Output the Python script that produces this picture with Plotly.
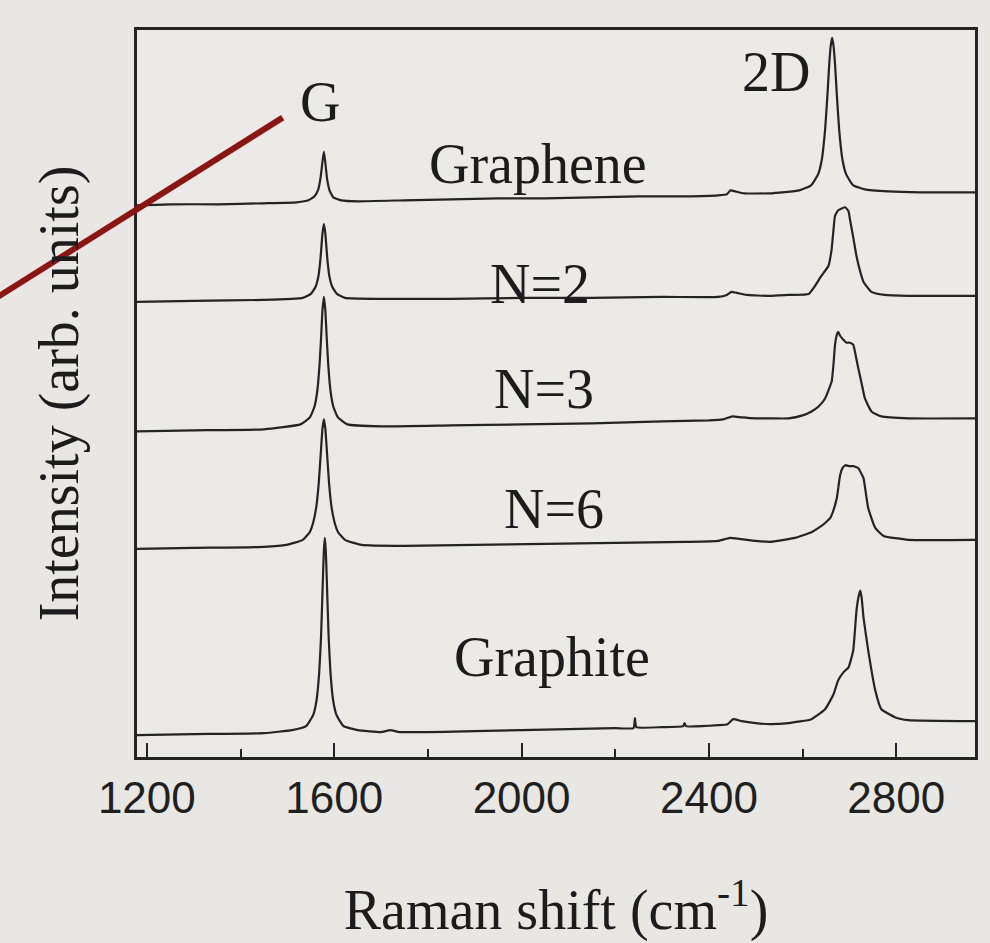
import plotly.graph_objects as go

# Raman spectra (wavenumber in cm^-1, intensity in arbitrary units, stacked)
graphene_x = [1179, 1250, 1350, 1450, 1520, 1545, 1558, 1566, 1571, 1575, 1578, 1581, 1585, 1590, 1598,
              1615, 1650, 1750, 1850, 1950, 2050, 2150, 2250, 2350, 2420, 2438, 2446, 2456, 2475, 2530,
              2593, 2618, 2633, 2641, 2648, 2653, 2657, 2660, 2663, 2666, 2669, 2673, 2678, 2685, 2693,
              2708, 2733, 2783, 2850, 2968]
graphene_y = [554, 555, 555, 556, 557, 559, 563, 570, 582, 598, 608, 597, 580, 569, 562,
              559, 558, 559, 560, 561, 561, 562, 563, 563, 564, 565, 569, 568, 566, 566,
              569, 574, 585, 600, 630, 665, 697, 714, 722, 714, 697, 665, 630, 600, 585,
              574, 570, 568, 567, 567]

n2_x = [1179, 1300, 1450, 1533, 1550, 1560, 1566, 1570, 1572, 1575, 1578, 1581, 1584, 1586, 1590,
        1596, 1606, 1623, 1700, 1850, 2000, 2150, 2300, 2420, 2438, 2448, 2460, 2480, 2530, 2570,
        2613, 2625, 2640, 2655, 2662, 2666, 2669, 2676, 2691, 2698, 2701, 2708, 2715, 2722, 2730,
        2747, 2775, 2826, 2968]
n2_y = [457, 458, 459, 461, 465, 472, 482, 497, 508, 526, 535, 526, 508, 497, 482,
        472, 465, 461, 460, 460, 461, 461, 462, 462, 464, 467, 466, 464, 463, 464,
        465, 472, 483, 493, 510, 530, 543, 549, 552, 548, 540, 522, 503, 489, 477,
        467, 464, 463, 463]

n3_x = [1179, 1300, 1450, 1528, 1548, 1558, 1564, 1569, 1572, 1575, 1578, 1581, 1584, 1587, 1592,
        1598, 1608, 1628, 1700, 1850, 2000, 2150, 2300, 2400, 2430, 2450, 2470, 2500, 2530, 2570,
        2600, 2619, 2634, 2648, 2662, 2666, 2669, 2673, 2676, 2680, 2687, 2694, 2701, 2708, 2713,
        2719, 2726, 2733, 2747, 2768, 2826, 2968]
n3_y = [327, 328, 329, 334, 341, 352, 368, 396, 421, 449, 462, 449, 421, 396, 368,
        352, 341, 334, 332, 333, 334, 335, 337, 338, 339, 342, 341, 340, 340, 340,
        343, 347, 352, 360, 377, 395, 413, 424, 427, 423, 419, 416, 416, 414, 404,
        390, 375, 360, 347, 342, 340, 340]

n6_x = [1179, 1300, 1450, 1498, 1533, 1548, 1556, 1562, 1567, 1572, 1575, 1578, 1581, 1584, 1589,
        1594, 1600, 1608, 1623, 1658, 1750, 1900, 2050, 2200, 2350, 2420, 2445, 2465, 2500, 2530,
        2584, 2620, 2634, 2648, 2659, 2666, 2673, 2680, 2685, 2691, 2700, 2708, 2715, 2719, 2725,
        2730, 2740, 2755, 2773, 2826, 2968]
n6_y = [209, 210, 211, 213, 218, 226, 237, 252, 275, 310, 330, 339, 330, 310, 275,
        252, 237, 226, 218, 213, 212, 213, 214, 215, 216, 217, 220, 219, 217, 216,
        220, 226, 230, 235, 240, 248, 260, 283, 290, 293, 292, 292, 291, 290, 285,
        280, 250, 230, 222, 218, 218]

graphite_x = [1179, 1300, 1450, 1510, 1540, 1555, 1562, 1568, 1572, 1576, 1578, 1580, 1582, 1584, 1588,
              1592, 1598, 1605, 1620, 1650, 1700, 1720, 1740, 1900, 2100, 2200, 2239, 2242, 2245, 2300,
              2345, 2348, 2351, 2420, 2440, 2452, 2470, 2500, 2530, 2570, 2619, 2648, 2666, 2676, 2687,
              2698, 2708, 2715, 2719, 2723, 2726, 2730, 2740, 2755, 2768, 2797, 2826, 2968]
graphite_y = [22, 23, 24, 27, 31, 42, 56, 85, 122, 181, 208, 220, 208, 181, 122,
              85, 56, 42, 31, 27, 25, 27, 25, 26, 28, 29, 29, 39, 30, 30,
              31, 34, 31, 32, 33, 38, 36, 34, 33, 34, 38, 48, 63, 77, 85,
              90, 107, 147, 160, 167, 160, 140, 107, 67, 48, 40, 37, 36]

tick_values = [1200, 1600, 2000, 2400, 2800]
minor_tick_values = [1400, 1800, 2200, 2600]

# spectrum labels: (text, wavenumber, intensity)
labels = [("G", 1569, 658), ("2D", 2544, 688), ("Graphene", 2036, 595),
          ("N=2", 2040, 475), ("N=3", 2048, 370), ("N=6", 2070, 249), ("Graphite", 2066, 100)]

spectra = [("Graphene", graphene_x, graphene_y), ("N=2", n2_x, n2_y), ("N=3", n3_x, n3_y),
           ("N=6", n6_x, n6_y), ("Graphite", graphite_x, graphite_y)]

INK = "#242424"
SERIF = "Liberation Serif"

fig = go.Figure()
for name, xs, ys in spectra:
    fig.add_trace(go.Scatter(x=xs, y=ys, mode="lines", name=name, showlegend=False,
                             line=dict(color=INK, width=2.2, shape="spline", smoothing=0.4),
                             hoverinfo="skip"))

for text, x, y in labels:
    fig.add_annotation(x=x, y=y, text=text, showarrow=False,
                       font=dict(family=SERIF, size=56, color="#1c1c1c"))

# pointer line towards the G peak label
fig.add_shape(type="line", xref="paper", yref="paper", x0=0.1738, y0=0.8795, x1=-0.17, y1=0.63,
              line=dict(color="#8b1414", width=6))

fig.update_xaxes(range=[1179, 2968], tickvals=tick_values, ticktext=[str(v) for v in tick_values],
                 ticks="inside", ticklen=14, tickwidth=2, tickcolor=INK,
                 minor=dict(tickvals=minor_tick_values, ticks="inside", ticklen=8, tickwidth=2, tickcolor=INK),
                 showline=True, linewidth=2.5, linecolor=INK, mirror=True,
                 showgrid=False, zeroline=False, ticklabelstandoff=0,
                 tickfont=dict(family="Liberation Sans", size=44, color="#1f1f1f"),
                 title=dict(text="Raman shift (cm<sup>-1</sup>)", standoff=70,
                            font=dict(family=SERIF, size=56, color="#1c1c1c")))
fig.update_yaxes(range=[0, 730], showticklabels=False, ticks="",
                 showline=True, linewidth=2.5, linecolor=INK, mirror=True,
                 showgrid=False, zeroline=False,
                 title=dict(text="Intensity (arb. units)", standoff=38,
                            font=dict(family=SERIF, size=56, color="#1c1c1c")))

fig.update_layout(width=990, height=943, margin=dict(l=137, r=13, t=30, b=183),
                  paper_bgcolor="#e8e7e3", plot_bgcolor="#eceae6")

fig.write_html("out.html")
